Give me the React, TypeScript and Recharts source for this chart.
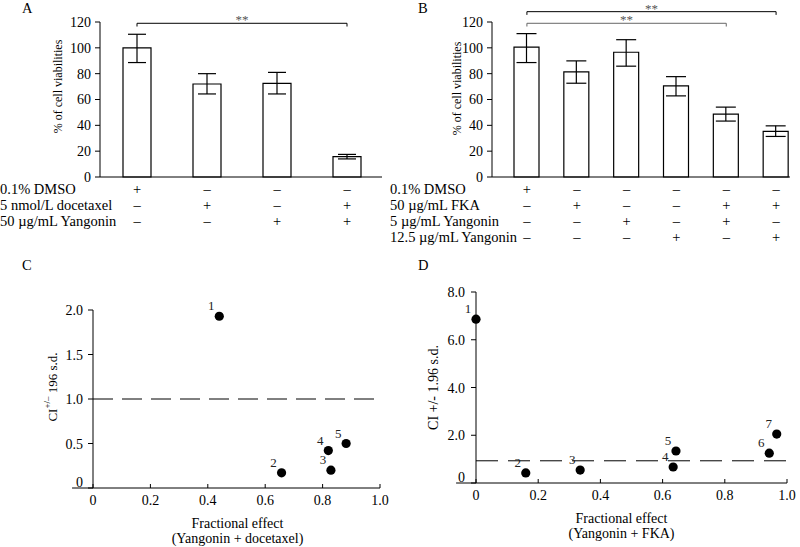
import React from 'react';
import { BarChart, Bar, ErrorBar, XAxis, YAxis, ScatterChart, Scatter, ReferenceLine } from 'recharts';

// Panel A - docetaxel combination
const groupsA = ['DMSO', 'Docetaxel', 'Yangonin', 'Docetaxel + Yangonin'];
const viabilityA = [100, 72, 72.5, 15.8];
const lowA = [88.6, 64.3, 64.3, 14];
const highA = [110.5, 80, 81, 17.5];
const treatmentsA = ['0.1% DMSO', '5 nmol/L docetaxel', '50 µg/mL Yangonin'];
const signsA = [
  ['+', '–', '–', '–'],
  ['–', '+', '–', '+'],
  ['–', '–', '+', '+'],
];

// Panel B - FKA combination
const groupsB = ['DMSO', 'FKA', 'Y5', 'Y12.5', 'FKA + Y5', 'FKA + Y12.5'];
const viabilityB = [100.6, 81.4, 96.6, 70.5, 48.7, 35.3];
const lowB = [88.6, 72.6, 85.8, 62.8, 43.3, 31.4];
const highB = [111, 89.9, 106.3, 77.7, 54.1, 39.6];
const treatmentsB = ['0.1% DMSO', '50 µg/mL FKA', '5 µg/mL Yangonin', '12.5 µg/mL Yangonin'];
const signsB = [
  ['+', '–', '–', '–', '–', '–'],
  ['–', '+', '–', '–', '+', '+'],
  ['–', '–', '+', '–', '+', '–'],
  ['–', '–', '–', '+', '–', '+'],
];

// Panel C - combination index, Yangonin + docetaxel
const pointsC = [1, 2, 3, 4, 5];
const effectC = [0.44, 0.657, 0.829, 0.82, 0.882];
const ciC = [1.93, 0.17, 0.2, 0.42, 0.5];

// Panel D - combination index, Yangonin + FKA
const pointsD = [1, 2, 3, 4, 5, 6, 7];
const effectD = [0, 0.16, 0.335, 0.634, 0.643, 0.943, 0.967];
const ciD = [6.86, 0.42, 0.54, 0.67, 1.34, 1.25, 2.05];

const dataA = groupsA.map((g, i) => ({ group: g, value: viabilityA[i], err: [viabilityA[i] - lowA[i], highA[i] - viabilityA[i]] }));
const dataB = groupsB.map((g, i) => ({ group: g, value: viabilityB[i], err: [viabilityB[i] - lowB[i], highB[i] - viabilityB[i]] }));
const dataC = pointsC.map((id, i) => ({ id, effect: effectC[i], ci: ciC[i] }));
const dataD = pointsD.map((id, i) => ({ id, effect: effectD[i], ci: ciD[i] }));

const font = '"Liberation Serif", "Times New Roman", serif';
const fmt = (v: number) => (v === 0 ? '0' : v.toFixed(1));

const SignTick = (props: any) => {
  const { x, y, payload, groups, signs } = props;
  const idx = groups.indexOf(payload.value);
  return (
    <g>
      {signs.map((row: string[], r: number) => (
        <text key={r} x={x} y={y + 17 + r * 16} textAnchor="middle" fontSize={14.5} fill="#000" stroke="none">
          {row[idx]}
        </text>
      ))}
    </g>
  );
};

const YTitle = (props: any) => {
  const { viewBox, dist, dy, size, children } = props;
  const cx = viewBox.x + viewBox.width - dist;
  const cy = viewBox.y + viewBox.height / 2 + (dy || 0);
  return (
    <text transform={`translate(${cx},${cy}) rotate(-90)`} textAnchor="middle" dominantBaseline="central" fontSize={size || 14} fill="#000">
      {children}
    </text>
  );
};

const XTitle = (props: any) => {
  const { viewBox, lines, dx } = props;
  const cx = viewBox.x + viewBox.width / 2 + (dx || 0);
  return (
    <g>
      {lines.map((t: string, i: number) => (
        <text key={i} x={cx} y={viewBox.y + 40 + i * 14.5} textAnchor="middle" fontSize={14} fill="#000">
          {t}
        </text>
      ))}
    </g>
  );
};

const CiTick = (props: any) => {
  const { x, y, payload } = props;
  const v = payload.value;
  return (
    <text x={x} y={y + (v === 0 ? -6 : 0)} dy={5} textAnchor="end" fontSize={14} fill="#000">
      {fmt(v)}
    </text>
  );
};

const PointShape = (props: any) => {
  const { cx, cy, payload } = props;
  return (
    <g>
      <circle cx={cx} cy={cy} r={4.6} fill="#000" />
      <text x={cx - 8} y={cy - 6} textAnchor="middle" fontSize={13} fill="#222">
        {payload.id}
      </text>
    </g>
  );
};

const layer: React.CSSProperties = { position: 'absolute', left: 0, top: 0 };
const line = { stroke: '#000', strokeWidth: 1 };
const starLabel = { value: '**', position: 'top' as const, offset: -1, fontSize: 13, fill: '#555' };

const App = () => {
  return (
    <div style={{ position: 'absolute', left: 0, top: 0, width: 800, height: 547, background: '#fff', fontFamily: font }}>
      {/* A */}
      <div style={layer}>
        <BarChart width={800} height={547} data={dataA} margin={{ top: 22, right: 418, bottom: 340, left: 60 }}>
          <XAxis dataKey="group" height={30} padding={{ left: 2, right: 0 }} axisLine={line} tickLine={false} tickSize={0} tickMargin={0}
            interval={0} tick={<SignTick groups={groupsA} signs={signsA} />} />
          <YAxis domain={[0, 120]} ticks={[0, 20, 40, 60, 80, 100, 120]} width={40} tickSize={5} tickMargin={4}
            axisLine={line} tickLine={line} tick={{ fontSize: 14, fill: '#000' }}
            label={<YTitle dist={42} dy={-13} size={12}>% of cell viabilities</YTitle>} />
          <Bar dataKey="value" fill="#fff" stroke="#000" strokeWidth={1.2} barSize={28} isAnimationActive={false}>
            <ErrorBar dataKey="err" width={9} stroke="#000" strokeWidth={1.2} isAnimationActive={false} />
          </Bar>
          <ReferenceLine segment={[{ x: groupsA[0], y: 119 }, { x: groupsA[3], y: 119 }]} ifOverflow="visible" stroke="#000" label={starLabel} />
          <ReferenceLine segment={[{ x: groupsA[0], y: 119 }, { x: groupsA[0], y: 116.5 }]} ifOverflow="visible" stroke="#000" />
          <ReferenceLine segment={[{ x: groupsA[3], y: 119 }, { x: groupsA[3], y: 116.5 }]} ifOverflow="visible" stroke="#000" />
        </BarChart>
      </div>

      {/* B */}
      <div style={layer}>
        <BarChart width={800} height={547} data={dataB} margin={{ top: 22, right: 10, bottom: 340, left: 452 }}>
          <XAxis dataKey="group" height={30} padding={{ left: 10, right: -11 }} axisLine={line} tickLine={false} tickSize={0} tickMargin={0}
            interval={0} tick={<SignTick groups={groupsB} signs={signsB} />} />
          <YAxis domain={[0, 120]} ticks={[0, 20, 40, 60, 80, 100, 120]} width={40} tickSize={5} tickMargin={4}
            axisLine={line} tickLine={line} tick={{ fontSize: 14, fill: '#000' }}
            label={<YTitle dist={35} dy={-11} size={12}>% of cell viabilities</YTitle>} />
          <Bar dataKey="value" fill="#fff" stroke="#000" strokeWidth={1.2} barSize={25} isAnimationActive={false}>
            <ErrorBar dataKey="err" width={10} stroke="#000" strokeWidth={1.2} isAnimationActive={false} />
          </Bar>
          <ReferenceLine segment={[{ x: groupsB[0], y: 128 }, { x: groupsB[5], y: 128 }]} ifOverflow="visible" stroke="#000" label={starLabel} />
          <ReferenceLine segment={[{ x: groupsB[0], y: 128 }, { x: groupsB[0], y: 125.5 }]} ifOverflow="visible" stroke="#000" />
          <ReferenceLine segment={[{ x: groupsB[5], y: 128 }, { x: groupsB[5], y: 125.5 }]} ifOverflow="visible" stroke="#000" />
          <ReferenceLine segment={[{ x: groupsB[0], y: 119 }, { x: groupsB[4], y: 119 }]} ifOverflow="visible" stroke="#666" label={starLabel} />
          <ReferenceLine segment={[{ x: groupsB[0], y: 119 }, { x: groupsB[0], y: 116.5 }]} ifOverflow="visible" stroke="#666" />
          <ReferenceLine segment={[{ x: groupsB[4], y: 119 }, { x: groupsB[4], y: 116.5 }]} ifOverflow="visible" stroke="#666" />
        </BarChart>
      </div>

      {/* C */}
      <div style={layer}>
        <ScatterChart width={800} height={547} margin={{ top: 310, right: 420, bottom: 19, left: 53 }}>
          <XAxis type="number" dataKey="effect" domain={[0, 1]} ticks={[0, 0.2, 0.4, 0.6, 0.8, 1]} tickFormatter={fmt}
            height={40} tickSize={-4} tickMargin={11} axisLine={line} tickLine={line} tick={{ fontSize: 14, fill: '#000' }}
            label={<XTitle lines={['Fractional effect', '(Yangonin + docetaxel)']} dx={1} />} />
          <YAxis type="number" dataKey="ci" domain={[0, 2]} ticks={[0, 0.5, 1, 1.5, 2]} width={40} tickSize={5} tickMargin={5}
            axisLine={line} tickLine={line} tick={<CiTick />}
            label={
              <YTitle dist={41} dy={-12} size={13}>
                CI<tspan dy={-5} fontSize={9}>+/–</tspan>
                <tspan dy={5}> 196 s.d.</tspan>
              </YTitle>
            } />
          <ReferenceLine y={1} stroke="#000" strokeDasharray="20 9" />
          <ReferenceLine segment={[{ x: -0.073, y: 0 }, { x: 0, y: 0 }]} ifOverflow="visible" stroke="#000" />
          <Scatter data={dataC} shape={<PointShape />} isAnimationActive={false} />
        </ScatterChart>
      </div>

      {/* D */}
      <div style={layer}>
        <ScatterChart width={800} height={547} margin={{ top: 292, right: 13, bottom: 24, left: 436 }}>
          <XAxis type="number" dataKey="effect" domain={[0, 1]} ticks={[0, 0.2, 0.4, 0.6, 0.8, 1]} tickFormatter={fmt}
            height={40} tickSize={-4} tickMargin={11} axisLine={line} tickLine={line} tick={{ fontSize: 14, fill: '#000' }}
            label={<XTitle lines={['Fractional effect', '(Yangonin + FKA)']} dx={-10} />} />
          <YAxis type="number" dataKey="ci" domain={[0, 8]} ticks={[0, 2, 4, 6, 8]} width={40} tickSize={5} tickMargin={6}
            axisLine={line} tickLine={line} tick={<CiTick />}
            label={<YTitle dist={43} size={14}>CI +/- 1.96 s.d.</YTitle>} />
          <ReferenceLine y={0.93} stroke="#000" strokeDasharray="22 10" />
          <ReferenceLine segment={[{ x: -0.064, y: 0 }, { x: 0, y: 0 }]} ifOverflow="visible" stroke="#000" />
          <Scatter data={dataD} shape={<PointShape />} isAnimationActive={false} />
        </ScatterChart>
      </div>

      {/* panel letters and treatment rows */}
      <svg width={800} height={547} style={{ ...layer, pointerEvents: 'none' }}>
        <g fontSize={14.5} fill="#000">
          <text x={22} y={13}>A</text>
          <text x={418} y={13}>B</text>
          <text x={22} y={270}>C</text>
          <text x={418} y={270}>D</text>
          {treatmentsA.map((t, i) => (
            <text key={'a' + i} x={0} y={194 + i * 16}>{t}</text>
          ))}
          {treatmentsB.map((t, i) => (
            <text key={'b' + i} x={390} y={194 + i * 16}>{t}</text>
          ))}
        </g>
      </svg>
    </div>
  );
};

export default App;
